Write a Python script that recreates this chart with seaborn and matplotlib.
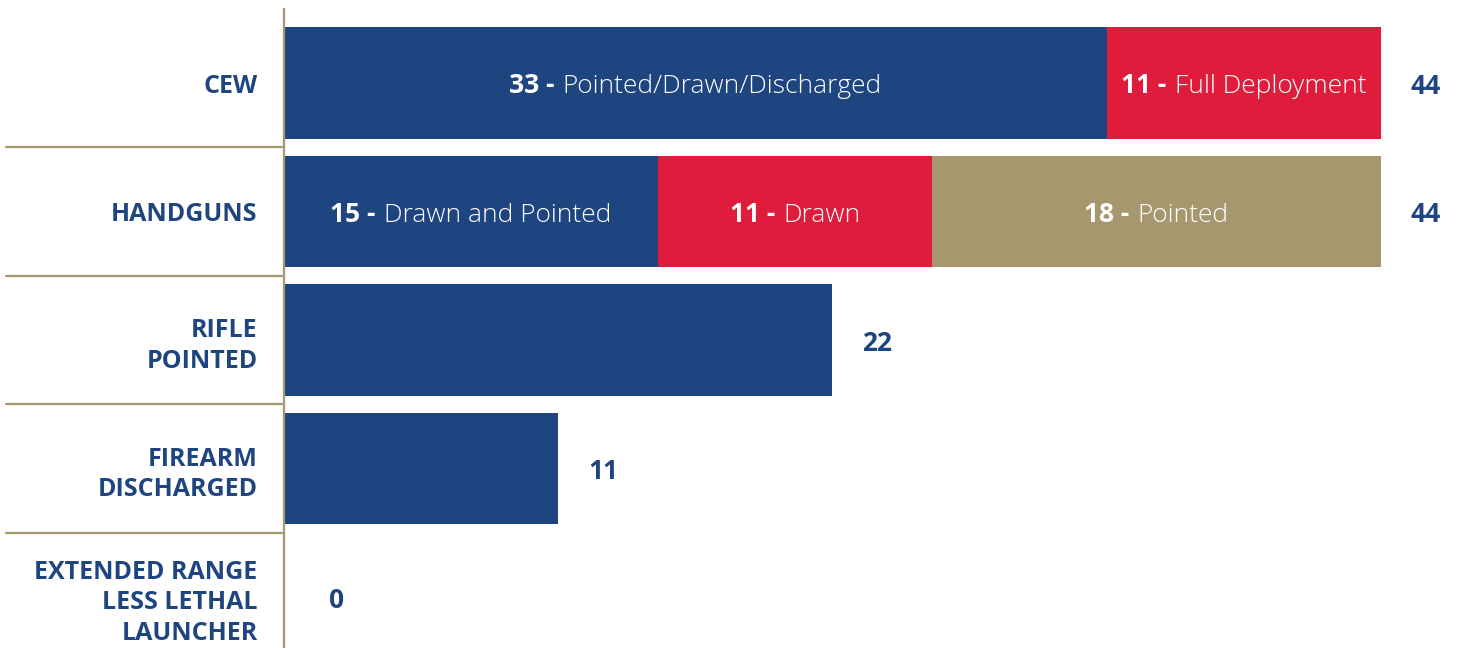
import matplotlib
matplotlib.use("Agg")
import matplotlib.pyplot as plt
from matplotlib.offsetbox import TextArea, HPacker, AnnotationBbox
import seaborn as sns
import pandas as pd

# Use-of-force categories and stacked segment counts
categories = ["CEW", "HANDGUNS", "RIFLE\nPOINTED", "FIREARM\nDISCHARGED",
              "EXTENDED RANGE\nLESS LETHAL\nLAUNCHER"]
seg1 = [33, 15, 22, 11, 0]
seg2 = [11, 11, 0, 0, 0]
seg3 = [0, 18, 0, 0, 0]
seg1_text = ["Pointed/Drawn/Discharged", "Drawn and Pointed", "", "", ""]
seg2_text = ["Full Deployment", "Drawn", "", "", ""]
seg3_text = ["", "Pointed", "", "", ""]

NAVY = "#1E4580"
RED = "#E01C3C"
TAN = "#A6976F"
FONT = "Open Sans"

sns.set_theme(style="white")
plt.rcParams["font.family"] = [FONT, "DejaVu Sans"]

W, H = 1457, 648
fig = plt.figure(figsize=(W / 100, H / 100), dpi=100)
left_px = 284
ax = fig.add_axes([left_px / W, 0, 1 - left_px / W, 1])

df = pd.DataFrame({
    "category": categories,
    "s1": seg1,
    "s2": seg2,
    "s3": seg3,
})
df["c1"] = df["s1"]
df["c2"] = df["s1"] + df["s2"]
df["c3"] = df["c2"] + df["s3"]

bar_h = 0.87
# Cumulative layers drawn back to front give a stacked appearance
for col, color in [("c3", TAN), ("c2", RED), ("c1", NAVY)]:
    sns.barplot(data=df, y="category", x=col, orient="h", color=color,
                width=bar_h, saturation=1, ax=ax, linewidth=0)

px_per_unit = 24.93
ax.set_xlim(0, (W - left_px) / px_per_unit)
row_px = 128.5
ax.set_ylim(4 + (648 - 597) / row_px, -83 / row_px)
ax.set_xlabel("")
ax.set_ylabel("")
ax.set_xticks([])

# Category labels
ax.tick_params(axis="y", length=0, pad=19)
for lab in ax.get_yticklabels():
    lab.set_color(NAVY)
    lab.set_fontweight("bold")
    lab.set_fontsize(18)
    lab.set_linespacing(1.3)
    lab.set_verticalalignment("center_baseline")

for s in ["top", "right", "bottom"]:
    ax.spines[s].set_visible(False)
ax.spines["left"].set_color(TAN)
ax.spines["left"].set_linewidth(1.6)
ax.spines["left"].set_bounds(4 + (648 - 597) / row_px, -(83 - 9) / row_px)

# Row separators in the label column
for k in range(len(categories) - 1):
    ax.axhline(k + 0.5, xmin=(6 - left_px) / (W - left_px), xmax=0,
               color=TAN, lw=1.6, clip_on=False)


def seg_label(value, text, x, y):
    bold = TextArea(f"{value} -", textprops=dict(color="white", fontsize=19,
                                                  fontweight="bold", family=FONT))
    light = TextArea(text, textprops=dict(color="white", fontsize=19,
                                          fontweight="light", family=FONT))
    pack = HPacker(children=[bold, light], align="baseline", pad=0, sep=6)
    ab = AnnotationBbox(pack, (x, y), xybox=(0, -2), boxcoords="offset points",
                        frameon=False, box_alignment=(0.5, 0.5), pad=0)
    ax.add_artist(ab)


for i in range(len(categories)):
    starts = [0, seg1[i], seg1[i] + seg2[i]]
    vals = [seg1[i], seg2[i], seg3[i]]
    texts = [seg1_text[i], seg2_text[i], seg3_text[i]]
    for st, v, t in zip(starts, vals, texts):
        if t:
            seg_label(v, t, st + v / 2, i)
    total = seg1[i] + seg2[i] + seg3[i]
    ax.annotate(f"{total}", (total, i), xytext=(43, 0),
                textcoords="offset points", ha="right", va="center_baseline",
                color=NAVY, fontsize=19, fontweight="bold")

fig.savefig("out.png", dpi=100)
